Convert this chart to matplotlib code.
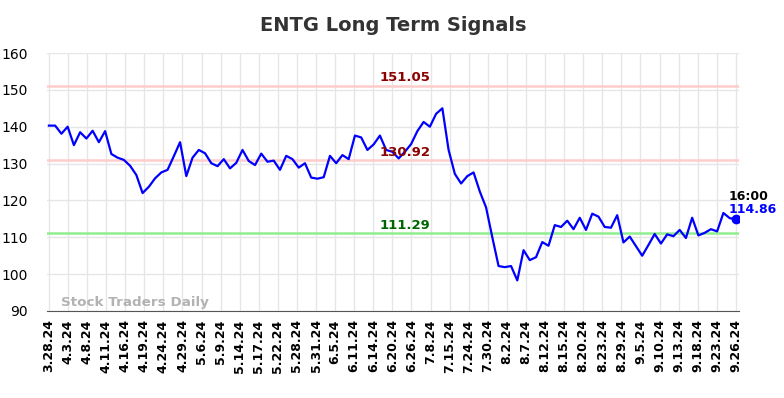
import matplotlib
matplotlib.use("Agg")
from matplotlib import pyplot as plt
import numpy as np

# closing prices (one per trading session shown)
prices = [
    140.3, 140.3, 138.1, 140.0, 135.0, 138.5, 136.8, 138.9, 135.8, 138.8,
    132.6, 131.6, 131.0, 129.4, 126.9, 122.0, 123.7, 126.0, 127.6, 128.3,
    132.0, 135.8, 126.6, 131.6, 133.7, 132.8, 130.1, 129.3, 131.2, 128.7,
    130.2, 133.7, 130.7, 129.6, 132.7, 130.5, 130.8, 128.3, 132.1, 131.2,
    128.9, 130.1, 126.2, 125.9, 126.3, 132.1, 130.1, 132.3, 131.2, 137.6,
    137.1, 133.7, 135.2, 137.6, 133.7, 133.2, 131.4, 133.2, 135.3, 138.8,
    141.3, 140.0, 143.5, 145.0, 133.7, 127.2, 124.6, 126.6, 127.6, 122.4,
    118.1, 110.0, 102.2, 101.9, 102.2, 98.3, 106.5, 103.8, 104.6, 108.7,
    107.7, 113.3, 112.8, 114.5, 112.2, 115.3, 112.0, 116.4, 115.6, 112.8,
    112.6, 116.0, 108.6, 110.2, 107.6, 105.0, 107.9, 110.9, 108.3, 110.8,
    110.3, 112.0, 109.8, 115.3, 110.5, 111.2, 112.2, 111.6, 116.6, 115.2,
    114.86,
]

tick_labels = [
    "3.28.24", "4.3.24", "4.8.24", "4.11.24", "4.16.24", "4.19.24", "4.24.24",
    "4.29.24", "5.6.24", "5.9.24", "5.14.24", "5.17.24", "5.22.24", "5.28.24",
    "5.31.24", "6.5.24", "6.11.24", "6.14.24", "6.20.24", "6.26.24", "7.8.24",
    "7.15.24", "7.24.24", "7.30.24", "8.2.24", "8.7.24", "8.12.24", "8.15.24",
    "8.20.24", "8.23.24", "8.29.24", "9.5.24", "9.10.24", "9.13.24", "9.18.24",
    "9.23.24", "9.26.24",
]

upper_level = 151.05
mid_level = 130.92
lower_level = 111.29
last_time = "16:00"

x = np.arange(len(prices))

fig = plt.figure(figsize=(7.84, 3.98), dpi=100)
ax = fig.add_axes([0.06, 0.2186, 0.8826, 0.6482])

ax.axhline(upper_level, color="#ffcccc", lw=1.8, zorder=1)
ax.axhline(mid_level, color="#ffcccc", lw=1.8, zorder=1)
ax.axhline(lower_level, color="#90ee90", lw=1.8, zorder=1)

ax.plot(x, prices, color="blue", lw=1.6, zorder=3)
ax.plot(x[-1], prices[-1], "o", color="blue", ms=6, zorder=4)

label_x = 57
ax.text(label_x, upper_level + 0.6, f"{upper_level:.2f}", color="#8b0000",
        fontsize=9.5, fontweight="bold", ha="center", va="bottom")
ax.text(label_x, mid_level + 0.4, f"{mid_level:.2f}", color="#8b0000",
        fontsize=9.5, fontweight="bold", ha="center", va="bottom")
ax.text(label_x, lower_level + 0.1, f"{lower_level:.2f}", color="#006400",
        fontsize=9.5, fontweight="bold", ha="center", va="bottom")

ax.text(x[-1] - 1.2, prices[-1] + 4.5, last_time, color="black", fontsize=9,
        fontweight="bold", ha="left", va="bottom")
ax.text(x[-1] - 1.2, prices[-1] + 1.0, f"{prices[-1]:.2f}", color="blue",
        fontsize=9, fontweight="bold", ha="left", va="bottom")

ax.text(0.02, 0.02, "Stock Traders Daily", transform=ax.transAxes,
        color="#aaaaaa", fontsize=9.7, fontweight="bold", alpha=0.9)

ax.set_xlim(-0.3, len(prices) - 0.5)
ax.set_ylim(90, 160)
ax.set_yticks(np.arange(90, 161, 10))
ax.set_xticks(np.linspace(0, len(prices) - 1, len(tick_labels)))
ax.set_xticklabels(tick_labels, rotation=90, fontsize=9, fontweight="bold")
ax.tick_params(axis="y", labelsize=10, length=0, pad=14)
ax.tick_params(axis="x", length=0, pad=6)

ax.grid(True, color="#e6e6e6", lw=1)
ax.set_axisbelow(True)
for side in ["top", "right", "left"]:
    ax.spines[side].set_visible(False)
ax.spines["bottom"].set_color("#555555")

ax.set_title("ENTG Long Term Signals", fontsize=14, fontweight="bold",
             color="#333333", pad=16)

plt.savefig("out.png", dpi=100)
plt.close()
